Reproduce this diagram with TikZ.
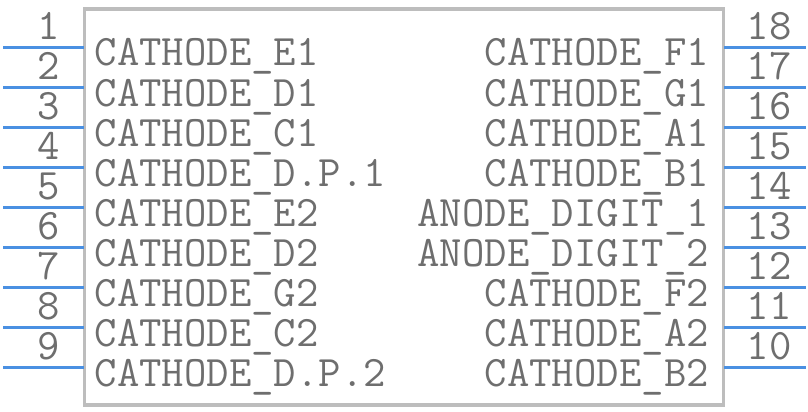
\documentclass[tikz,border=0pt]{standalone}
\usepackage{fontspec}
\usepackage{tikz}
\usetikzlibrary{positioning}
\definecolor{pinazul}{HTML}{4A90E2}
\definecolor{textogris}{HTML}{6E6E6E}
\definecolor{cajagris}{HTML}{BDBDBD}
\tikzset{
    etiqueta/.style={font=\ttfamily\fontsize{43.5}{45}\selectfont, text=textogris, inner sep=0pt},
    linea pin/.style={pinazul, line width=3pt},
}

\begin{document}
\begin{tikzpicture}[x=1pt,y=-1pt]
    \useasboundingbox (0,0) rectangle (808,412);

    % Dibuja el cuerpo del componente
    \draw[cajagris, line width=3.5pt] (84.5,9) rectangle (723.5,405);

    % Dibuja los pines de la izquierda
    \foreach \n/\nombre [count=\i from 0] in {1/CATHODE\_E1, 2/CATHODE\_D1, 3/CATHODE\_C1, 4/CATHODE\_D.P.1, 5/CATHODE\_E2, 6/CATHODE\_D2, 7/CATHODE\_G2, 8/CATHODE\_C2, 9/CATHODE\_D.P.2} {
        \coordinate (ext\n) at (3,47.5+40*\i);
        \coordinate (borde\n) at (84,47.5+40*\i);
        \draw[linea pin] (ext\n) -- (borde\n);
        \node[etiqueta, anchor=base] (num\n) at (49,39.5+40*\i) {\n};
        \node[etiqueta, anchor=base west] (nombre\n) at (94.5,66+40*\i) {\nombre};
    }

    % Dibuja los pines de la derecha
    \foreach \n/\nombre [count=\i from 0] in {18/CATHODE\_F1, 17/CATHODE\_G1, 16/CATHODE\_A1, 15/CATHODE\_B1, 14/ANODE\_DIGIT\_1, 13/ANODE\_DIGIT\_2, 12/CATHODE\_F2, 11/CATHODE\_A2, 10/CATHODE\_B2} {
        \coordinate (borde\n) at (724,47.5+40*\i);
        \coordinate (ext\n) at (806,47.5+40*\i);
        \draw[linea pin] (borde\n) -- (ext\n);
        \node[etiqueta, anchor=base] (num\n) at (769,39.5+40*\i) {\n};
        \node[etiqueta, anchor=base east] (nombre\n) at (709,66+40*\i) {\nombre};
    }
\end{tikzpicture}
\end{document}
